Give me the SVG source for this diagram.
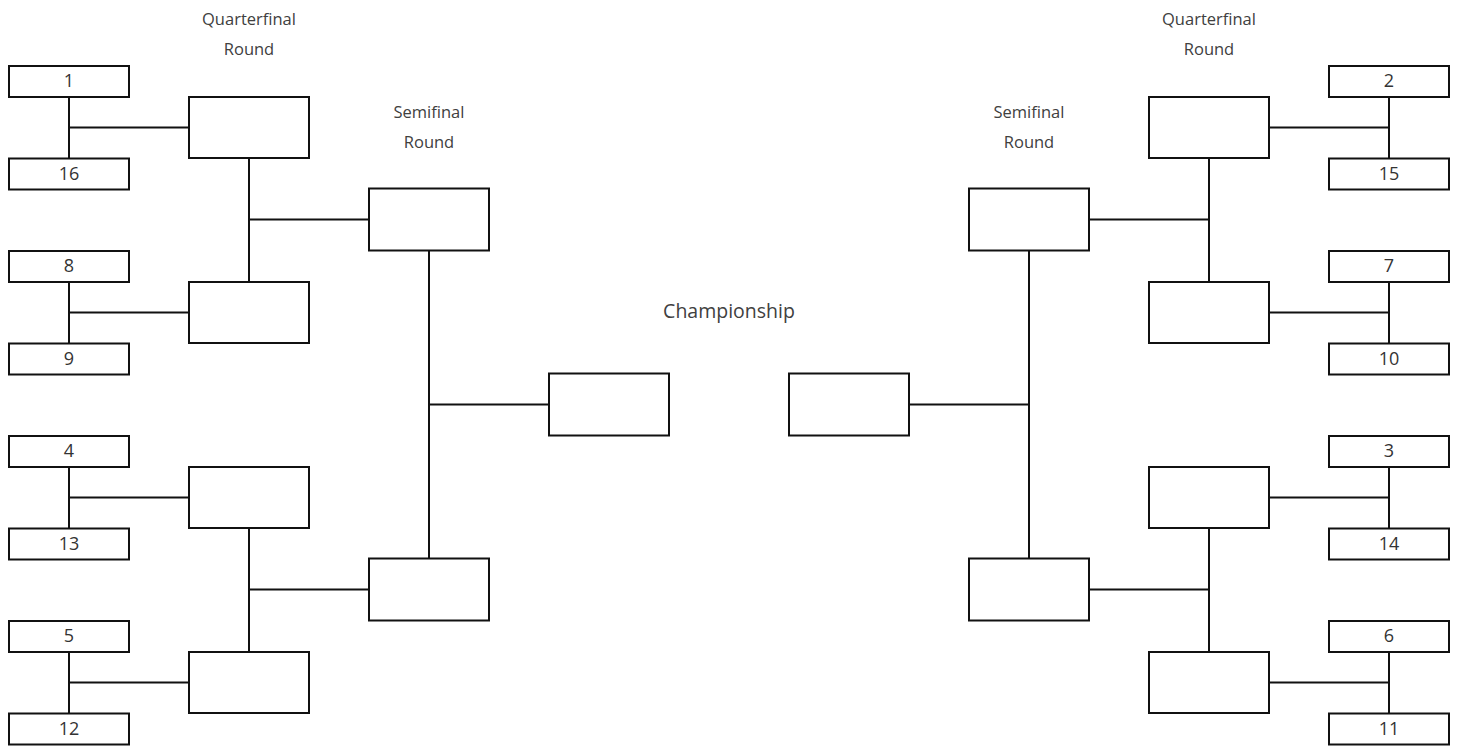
<svg xmlns="http://www.w3.org/2000/svg" width="1460" height="747" viewBox="0 0 1460 747">
<style>
.box{fill:#fff;stroke:#111;stroke-width:2}
.ln{stroke:#111;stroke-width:2;fill:none}
.seed{font-family:"Open Sans","DejaVu Sans",sans-serif;font-size:18px;fill:#333;text-anchor:middle}
.lbl{font-family:"Open Sans","DejaVu Sans",sans-serif;font-size:16.5px;fill:#404040;text-anchor:middle}
.big{font-family:"Open Sans","DejaVu Sans",sans-serif;font-size:19.5px;fill:#404040;text-anchor:middle}
</style>
<rect width="1460" height="747" fill="#fff"/>
<g id="labels">
<text class="lbl" x="249" y="25">Quarterfinal</text>
<text class="lbl" x="249" y="55">Round</text>
<text class="lbl" x="1209" y="25">Quarterfinal</text>
<text class="lbl" x="1209" y="55">Round</text>
<text class="lbl" x="429" y="117.5">Semifinal</text>
<text class="lbl" x="429" y="147.5">Round</text>
<text class="lbl" x="1029" y="117.5">Semifinal</text>
<text class="lbl" x="1029" y="147.5">Round</text>
<text class="big" x="729" y="318">Championship</text>
</g>
<g id="connectors">
<path class="ln" d="M69 97V158.5M69 282V343.5M69 467V528.5M69 652V713.5M69 127.5H189M69 312.5H189M69 497.5H189M69 682.5H189M249 158V282M249 528V652M249 219.5H369M249 589.5H369M429 250.5V558.5M429 404.5H549"/>
<path class="ln" d="M1389 97V158.5M1389 282V343.5M1389 467V528.5M1389 652V713.5M1389 127.5H1269M1389 312.5H1269M1389 497.5H1269M1389 682.5H1269M1209 158V282M1209 528V652M1209 219.5H1089M1209 589.5H1089M1029 250.5V558.5M1029 404.5H909"/>
</g>
<g id="seed-1"><rect class="box" x="9" y="66" width="120" height="31"/><text class="seed" x="69" y="87">1</text></g>
<g id="seed-16"><rect class="box" x="9" y="158.5" width="120" height="31"/><text class="seed" x="69" y="179.5">16</text></g>
<g id="seed-8"><rect class="box" x="9" y="251" width="120" height="31"/><text class="seed" x="69" y="272">8</text></g>
<g id="seed-9"><rect class="box" x="9" y="343.5" width="120" height="31"/><text class="seed" x="69" y="364.5">9</text></g>
<g id="seed-4"><rect class="box" x="9" y="436" width="120" height="31"/><text class="seed" x="69" y="457">4</text></g>
<g id="seed-13"><rect class="box" x="9" y="528.5" width="120" height="31"/><text class="seed" x="69" y="549.5">13</text></g>
<g id="seed-5"><rect class="box" x="9" y="621" width="120" height="31"/><text class="seed" x="69" y="642">5</text></g>
<g id="seed-12"><rect class="box" x="9" y="713.5" width="120" height="31"/><text class="seed" x="69" y="734.5">12</text></g>
<g id="seed-2"><rect class="box" x="1329" y="66" width="120" height="31"/><text class="seed" x="1389" y="87">2</text></g>
<g id="seed-15"><rect class="box" x="1329" y="158.5" width="120" height="31"/><text class="seed" x="1389" y="179.5">15</text></g>
<g id="seed-7"><rect class="box" x="1329" y="251" width="120" height="31"/><text class="seed" x="1389" y="272">7</text></g>
<g id="seed-10"><rect class="box" x="1329" y="343.5" width="120" height="31"/><text class="seed" x="1389" y="364.5">10</text></g>
<g id="seed-3"><rect class="box" x="1329" y="436" width="120" height="31"/><text class="seed" x="1389" y="457">3</text></g>
<g id="seed-14"><rect class="box" x="1329" y="528.5" width="120" height="31"/><text class="seed" x="1389" y="549.5">14</text></g>
<g id="seed-6"><rect class="box" x="1329" y="621" width="120" height="31"/><text class="seed" x="1389" y="642">6</text></g>
<g id="seed-11"><rect class="box" x="1329" y="713.5" width="120" height="31"/><text class="seed" x="1389" y="734.5">11</text></g>
<g id="qf-l1"><rect class="box" x="189" y="97" width="120" height="61"/></g>
<g id="qf-l2"><rect class="box" x="189" y="282" width="120" height="61"/></g>
<g id="qf-l3"><rect class="box" x="189" y="467" width="120" height="61"/></g>
<g id="qf-l4"><rect class="box" x="189" y="652" width="120" height="61"/></g>
<g id="qf-r1"><rect class="box" x="1149" y="97" width="120" height="61"/></g>
<g id="qf-r2"><rect class="box" x="1149" y="282" width="120" height="61"/></g>
<g id="qf-r3"><rect class="box" x="1149" y="467" width="120" height="61"/></g>
<g id="qf-r4"><rect class="box" x="1149" y="652" width="120" height="61"/></g>
<g id="sf-l1"><rect class="box" x="369" y="188.5" width="120" height="62"/></g>
<g id="sf-l2"><rect class="box" x="369" y="558.5" width="120" height="62"/></g>
<g id="sf-r1"><rect class="box" x="969" y="188.5" width="120" height="62"/></g>
<g id="sf-r2"><rect class="box" x="969" y="558.5" width="120" height="62"/></g>
<g id="final-l"><rect class="box" x="549" y="373.5" width="120" height="62"/></g>
<g id="final-r"><rect class="box" x="789" y="373.5" width="120" height="62"/></g>
</svg>
